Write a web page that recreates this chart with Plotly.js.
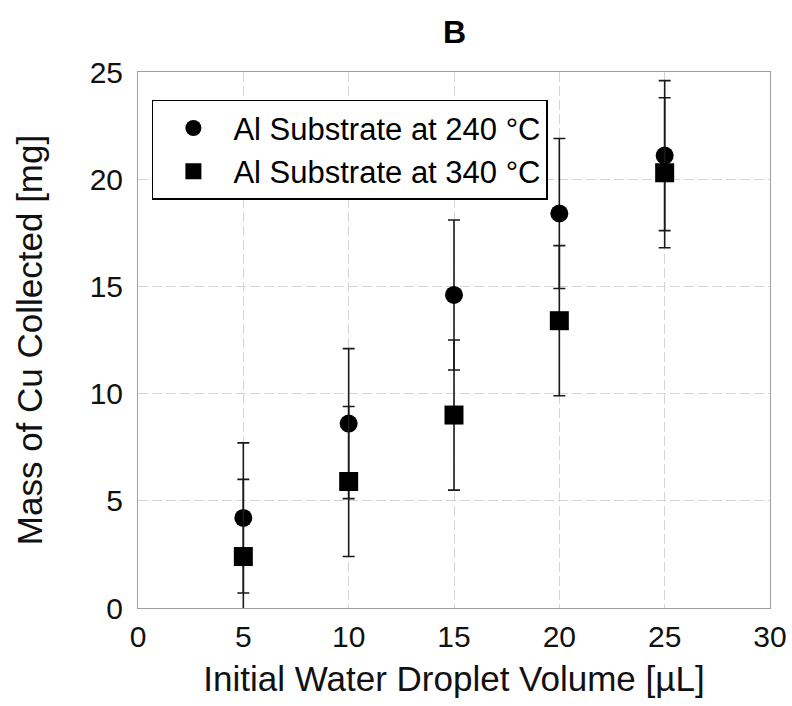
<!DOCTYPE html>
<html>
<head>
<meta charset="utf-8">
<script src="https://cdn.plot.ly/plotly-3.0.1.min.js"></script>
<style>html,body{margin:0;padding:0;background:#fff;}#chart{width:792px;height:706px;}</style>
</head>
<body>
<div id="chart"></div>
<script>
const volumes = [5, 10, 15, 20, 25];
const mass240 = [4.2, 8.6, 14.6, 18.4, 21.1];
const err240 = [3.5, 3.5, 3.5, 3.5, 3.5];
const mass340 = [2.4, 5.9, 9.0, 13.4, 20.3];
const err340 = [3.6, 3.5, 3.5, 3.5, 3.5];
const seriesNames = ['Al Substrate at 240 °C', 'Al Substrate at 340 °C'];
const xTicks = [0, 5, 10, 15, 20, 25, 30];
const yTicks = [0, 5, 10, 15, 20, 25];

const FONT = 'Liberation Sans, Arial, sans-serif';
const errStyle = {type: 'data', visible: true, thickness: 1.6, width: 6, color: '#1a1a1a'};

const traces = [
  {
    x: volumes, y: mass240, name: seriesNames[0], type: 'scatter', mode: 'markers',
    marker: {symbol: 'circle', size: 18, color: '#000'},
    error_y: Object.assign({array: err240}, errStyle)
  },
  {
    x: volumes, y: mass340, name: seriesNames[1], type: 'scatter', mode: 'markers',
    marker: {symbol: 'square', size: 19, color: '#000'},
    error_y: Object.assign({array: err340}, errStyle)
  }
];

const axisCommon = {
  showgrid: true, gridcolor: '#d4d4d4', griddash: '10px,4px', gridwidth: 1,
  showline: true, linecolor: '#a0a0a0', linewidth: 1, mirror: true,
  zeroline: false, ticks: '', tickfont: {family: FONT, size: 30, color: '#111'}
};

const layout = {
  width: 792, height: 706,
  margin: {l: 138, r: 22, t: 72, b: 98},
  paper_bgcolor: '#fff', plot_bgcolor: '#fff',
  font: {family: FONT, color: '#000'},
  title: {text: '<b>B</b>', font: {family: FONT, size: 32, color: '#000'}, x: 0.574, xanchor: 'center', y: 0.955, yanchor: 'middle'},
  xaxis: Object.assign({}, axisCommon, {
    range: [0, 30], tickvals: xTicks, ticktext: xTicks.map(String), ticklabelstandoff: 2,
    title: {text: 'Initial Water Droplet Volume [µL]', font: {family: FONT, size: 35, color: '#111'}, standoff: 14}
  }),
  yaxis: Object.assign({}, axisCommon, {
    range: [0, 25], tickvals: yTicks, ticktext: yTicks.map(String), ticklabelstandoff: 8,
    title: {text: 'Mass of Cu Collected [mg]', font: {family: FONT, size: 35, color: '#111'}, standoff: 36}
  }),
  showlegend: true,
  legend: {
    x: 0.022, y: 0.948, xanchor: 'left', yanchor: 'top',
    bgcolor: '#fff', bordercolor: '#000', borderwidth: 1.5,
    font: {family: FONT, size: 31, color: '#000'},
    itemwidth: 70, tracegroupgap: 0
  }
};

Plotly.newPlot('chart', traces, layout, {displayModeBar: false, staticPlot: true});
</script>
</body>
</html>
